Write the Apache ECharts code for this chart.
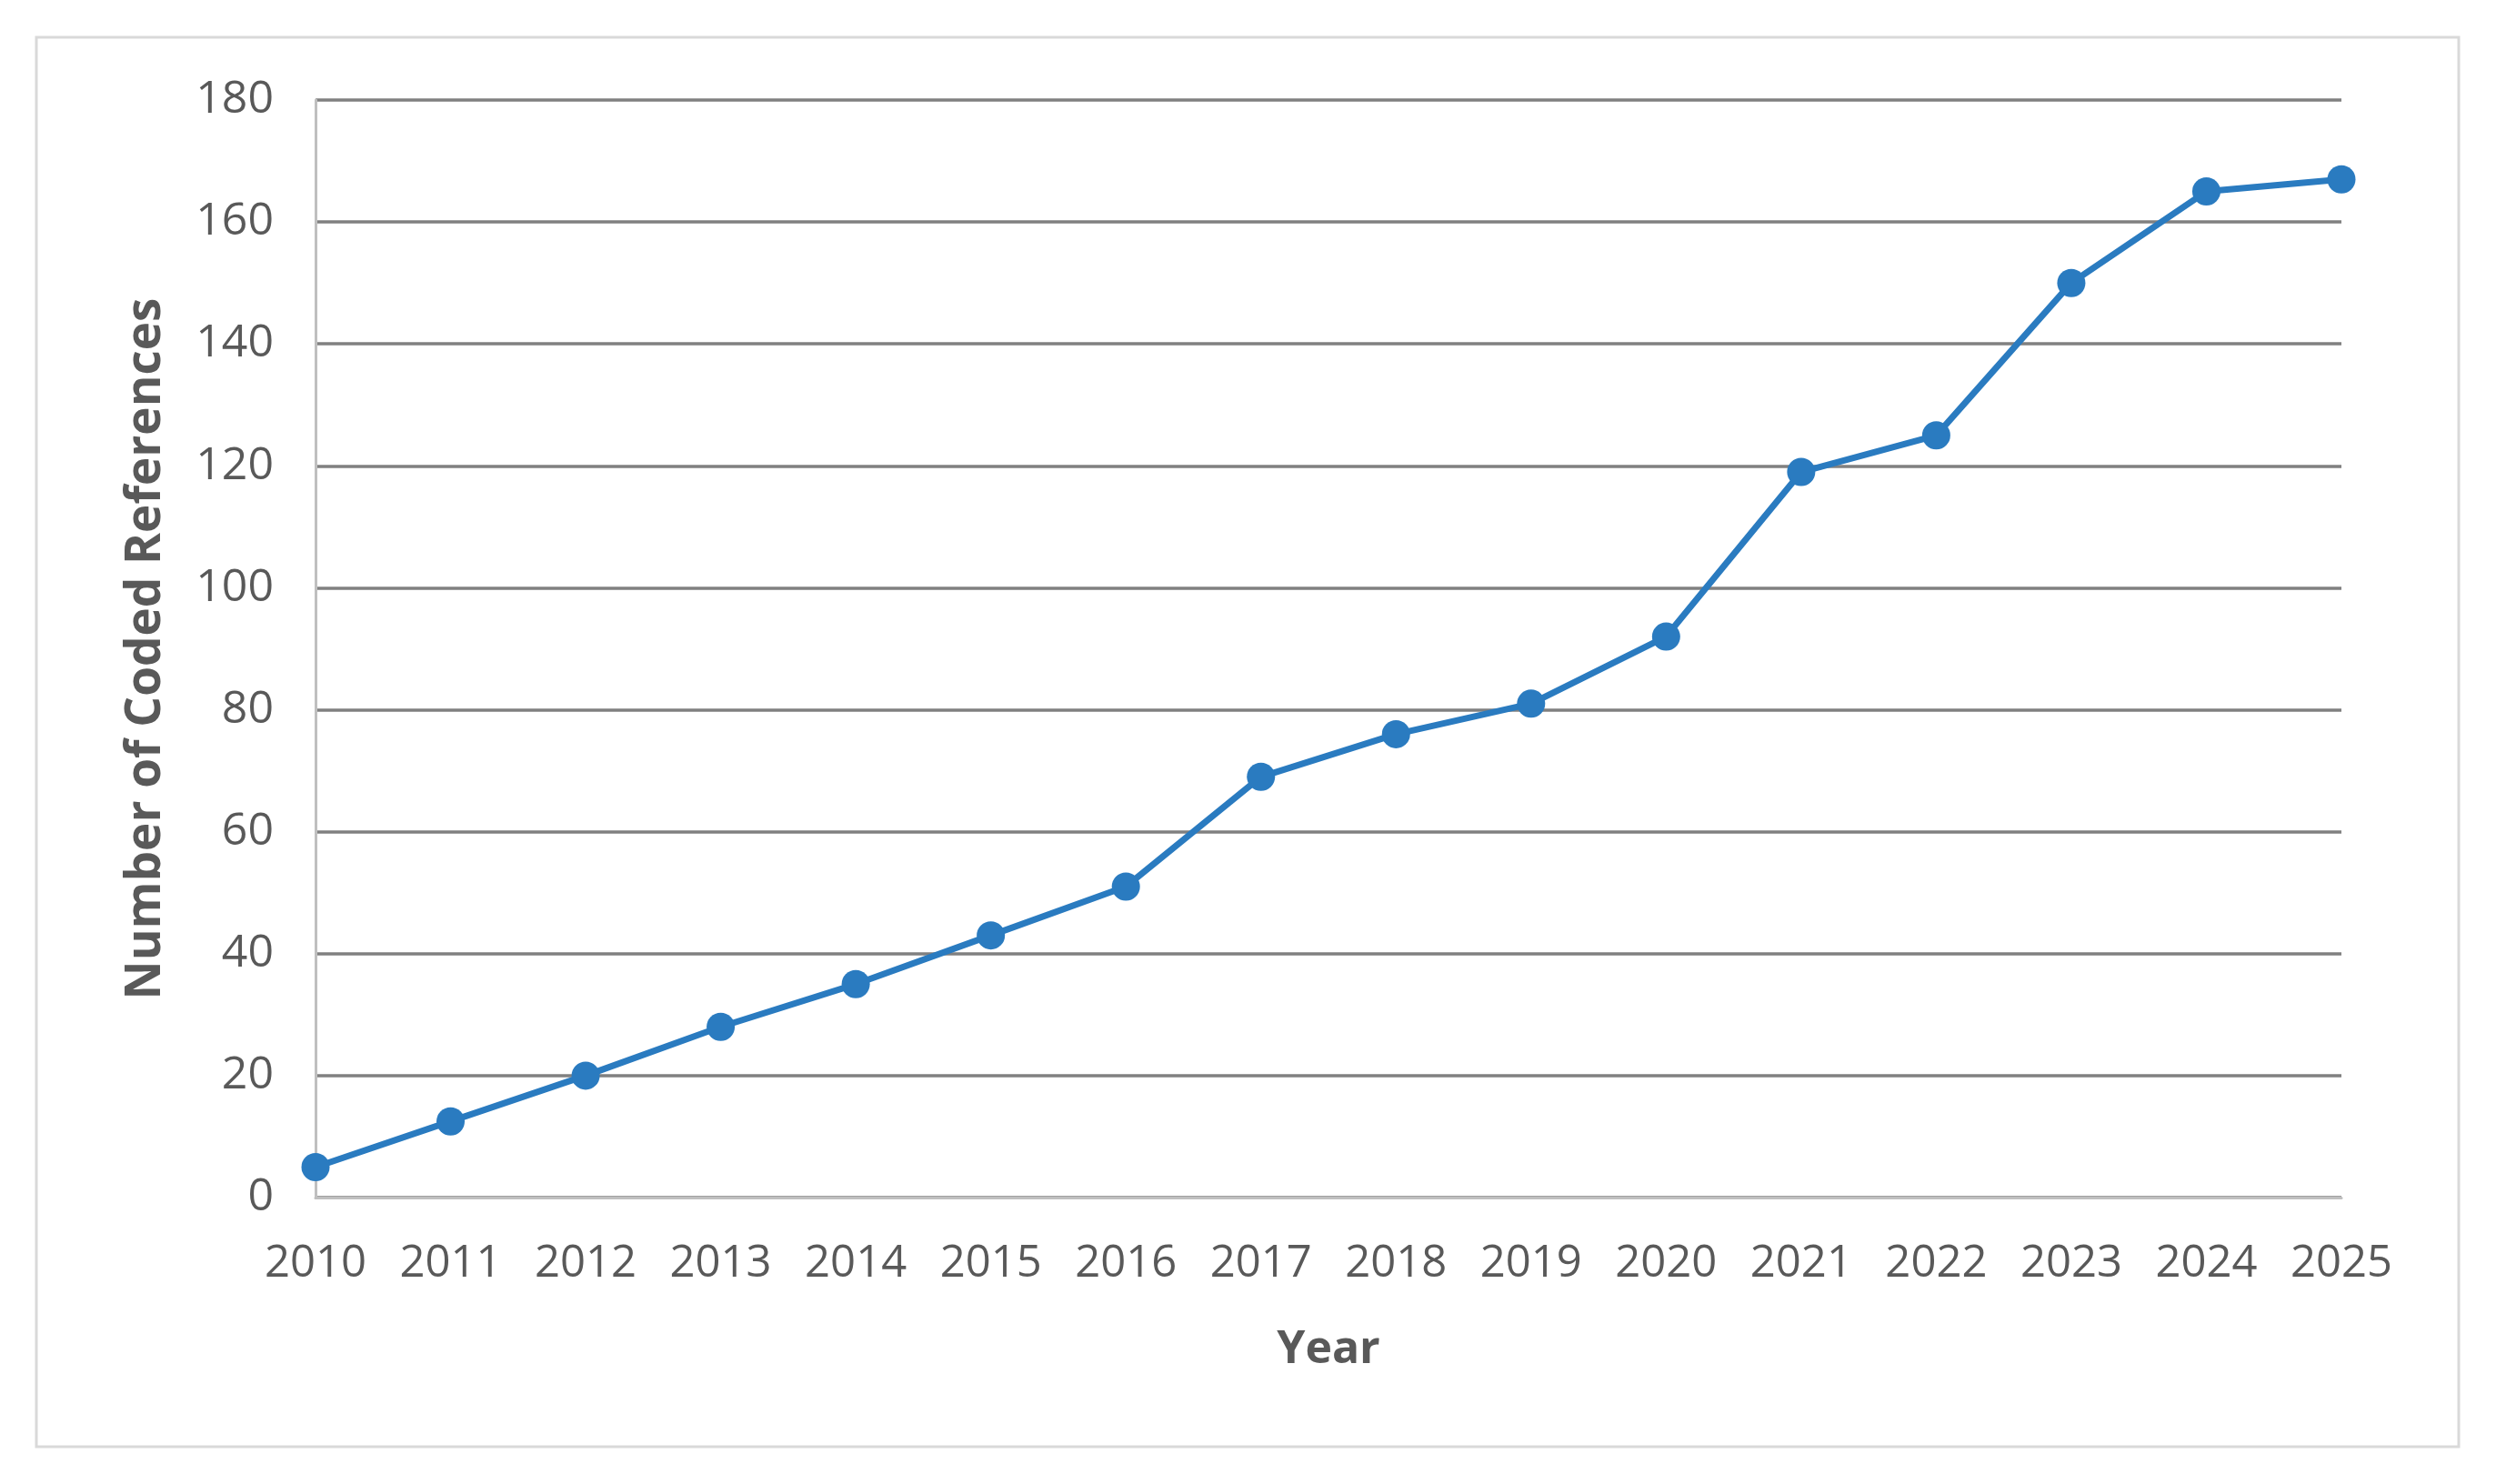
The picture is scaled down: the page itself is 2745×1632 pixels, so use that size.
<!DOCTYPE html>
<html>
<head>
<meta charset="utf-8">
<script src="https://cdn.jsdelivr.net/npm/echarts@6/dist/echarts.min.js"></script>
<style>
html,body{margin:0;padding:0;background:#fff;}
#chart{width:2745px;height:1632px;}
</style>
</head>
<body>
<div id="chart"></div>
<script>
const years = ['2010','2011','2012','2013','2014','2015','2016','2017','2018','2019','2020','2021','2022','2023','2024','2025'];
const codedReferences = [5, 12.5, 20, 28, 35, 43, 51, 69, 76, 81, 92, 119, 125, 150, 165, 167];
const yTicks = {min: 0, max: 180, interval: 20};
const xTitle = 'Year';
const yTitle = 'Number of Coded References';

const chart = echarts.init(document.getElementById('chart'), null, {renderer: 'canvas'});
const font = '"Open Sans", "Liberation Sans", sans-serif';
chart.setOption({
  backgroundColor: '#ffffff',
  animation: false,
  graphic: [{
    type: 'rect',
    shape: {x: 40, y: 41, width: 2664, height: 1550},
    style: {fill: 'none', stroke: '#d9d9d9', lineWidth: 3},
    silent: true
  }],
  grid: {left: 347, right: 170, top: 110, bottom: 315, containLabel: false},
  xAxis: {
    type: 'category',
    data: years,
    boundaryGap: false,
    name: xTitle,
    nameLocation: 'middle',
    nameGap: 143,
    nameTextStyle: {fontFamily: font, fontSize: 50, fontWeight: 'bold', color: '#595959'},
    axisLine: {show: true, lineStyle: {color: '#bfbfbf', width: 3}},
    axisTick: {show: false},
    axisLabel: {fontFamily: font, fontSize: 49, color: '#595959', margin: 49, interval: 0, hideOverlap: false},
    splitLine: {show: false}
  },
  yAxis: {
    type: 'value',
    min: yTicks.min,
    max: yTicks.max,
    interval: yTicks.interval,
    name: yTitle,
    nameLocation: 'middle',
    nameGap: 160,
    nameTextStyle: {fontFamily: font, fontSize: 53, fontWeight: 'bold', color: '#595959'},
    axisLine: {show: true, lineStyle: {color: '#bfbfbf', width: 3}},
    axisTick: {show: false},
    axisLabel: {fontFamily: font, fontSize: 50, color: '#595959', margin: 46},
    splitLine: {show: true, lineStyle: {color: '#808080', width: 3.5}}
  },
  series: [{
    type: 'line',
    data: codedReferences,
    symbol: 'circle',
    symbolSize: 31,
    lineStyle: {color: '#2a7bc0', width: 7},
    itemStyle: {color: '#2a7bc0'},
    z: 5
  }]
});
</script>
</body>
</html>
